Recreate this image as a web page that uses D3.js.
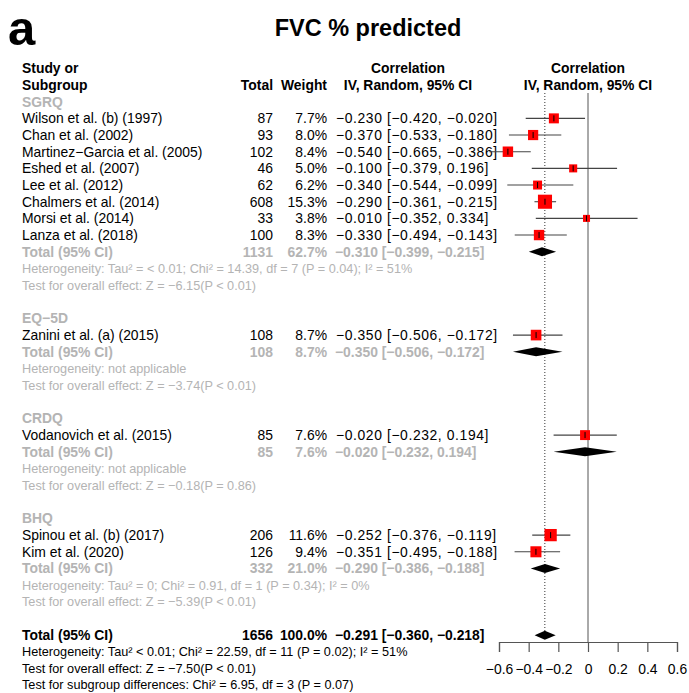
<!DOCTYPE html>
<html>
<head>
<meta charset="utf-8">
<script src="https://cdn.jsdelivr.net/npm/d3@7"></script>
<style>
    body { margin: 0; background: #fff; }
    svg text { font-family: "Liberation Sans", Arial, sans-serif; white-space: pre; }
</style>
</head>
<body>
<svg id="forest"></svg>
<script>
// studies
var studyNames = ["Wilson et al. (b) (1997)", "Chan et al. (2002)", "Martinez\u2212Garcia et al. (2005)", "Eshed et al. (2007)",
    "Lee et al. (2012)", "Chalmers et al. (2014)", "Morsi et al. (2014)", "Lanza et al. (2018)",
    "Zanini et al. (a) (2015)", "Vodanovich et al. (2015)", "Spinou et al. (b) (2017)", "Kim et al. (2020)"];
var studyGroup = [0, 0, 0, 0, 0, 0, 0, 0, 1, 2, 3, 3];
var studyTotal = [87, 93, 102, 46, 62, 608, 33, 100, 108, 85, 206, 126];
var studyWeight = [7.7, 8.0, 8.4, 5.0, 6.2, 15.3, 3.8, 8.3, 8.7, 7.6, 11.6, 9.4];
var studyR = [-0.230, -0.370, -0.540, -0.100, -0.340, -0.290, -0.010, -0.330, -0.350, -0.020, -0.252, -0.351];
var studyLo = [-0.420, -0.533, -0.665, -0.379, -0.544, -0.361, -0.352, -0.494, -0.506, -0.232, -0.376, -0.495];
var studyHi = [-0.020, -0.180, -0.386, 0.196, -0.099, -0.215, 0.334, -0.143, -0.172, 0.194, -0.119, -0.188];

// subgroups
var groupNames = ["SGRQ", "EQ\u22125D", "CRDQ", "BHQ"];
var groupTotal = [1131, 108, 85, 332];
var groupWeight = [62.7, 8.7, 7.6, 21.0];
var groupR = [-0.310, -0.350, -0.020, -0.290];
var groupLo = [-0.399, -0.506, -0.232, -0.386];
var groupHi = [-0.215, -0.172, 0.194, -0.188];
var groupHet = ["Heterogeneity: Tau\u00b2 = < 0.01; Chi\u00b2 = 14.39, df = 7 (P = 0.04); I\u00b2 = 51%",
    "Heterogeneity: not applicable",
    "Heterogeneity: not applicable",
    "Heterogeneity: Tau\u00b2 = 0; Chi\u00b2 = 0.91, df = 1 (P = 0.34); I\u00b2 = 0%"];
var groupTest = ["Test for overall effect: Z = \u22126.15(P < 0.01)",
    "Test for overall effect: Z = \u22123.74(P < 0.01)",
    "Test for overall effect: Z = \u22120.18(P = 0.86)",
    "Test for overall effect: Z = \u22125.39(P < 0.01)"];

// overall
var overallTotal = 1656;
var overallWeight = 100.0;
var overallCI = [-0.291, -0.360, -0.218];
var overallText = ["Heterogeneity: Tau\u00b2 < 0.01; Chi\u00b2 = 22.59, df = 11 (P = 0.02); I\u00b2 = 51%",
    "Test for overall effect: Z = \u22127.50(P < 0.01)",
    "Test for subgroup differences: Chi\u00b2 = 6.95, df = 3 (P = 0.07)"];

var tickValues = [-0.6, -0.4, -0.2, 0, 0.2, 0.4, 0.6];
var tickLabels = ["\u22120.6", "\u22120.4", "\u22120.2", "0", "0.2", "0.4", "0.6"];

var width = 689, height = 693;
var grey = "#b4b4b4";
var font = 13.9, smallFont = 12.7;

var svg = d3.select("#forest")
    .attr("width", width)
    .attr("height", height);

function num(v) {
    return (v < 0 ? "\u2212" : "") + Math.abs(v).toFixed(3);
}
function ciText(r, lo, hi) {
    return num(r) + " [" + num(lo) + ", " + num(hi) + "]";
}

// build the rows
var rows = [];
var r = 0;
for (var g = 0; g < groupNames.length; g++) {
    rows.push({type: "group", row: r++, g: g});
    for (var k = 0; k < studyNames.length; k++) {
        if (studyGroup[k] == g) rows.push({type: "study", row: r++, k: k});
    }
    rows.push({type: "gtotal", row: r++, g: g});
    rows.push({type: "ghet", row: r++, text: groupHet[g]});
    rows.push({type: "ghet", row: r++, text: groupTest[g]});
    r++;
}
var overallRow = r;

var y = d3.scaleLinear().domain([0, 1]).range([101.7, 118.37]);
var x = d3.scaleLinear().domain([-0.6, 0.6]).range([499, 677]);

var colStudy = 22, colTotal = 273, colWeight = 327, colCI = 335;

// title
svg.append("text")
    .attr("x", 8).attr("y", 45)
    .style("font-size", "49px").style("font-weight", "bold")
    .text("a");
svg.append("text")
    .attr("x", 368).attr("y", 36)
    .attr("text-anchor", "middle")
    .style("font-size", "23.5px").style("font-weight", "bold")
    .text("FVC % predicted");

// column headers
var header = svg.append("g").style("font-size", font + "px").style("font-weight", "bold");
header.append("text").attr("x", colStudy).attr("y", y(-2)).attr("dy", "0.35em").text("Study or");
header.append("text").attr("x", colStudy).attr("y", y(-1)).attr("dy", "0.35em").text("Subgroup");
header.append("text").attr("x", colTotal).attr("y", y(-1)).attr("dy", "0.35em").attr("text-anchor", "end").text("Total");
header.append("text").attr("x", colWeight).attr("y", y(-1)).attr("dy", "0.35em").attr("text-anchor", "end").text("Weight");
[408, 588].forEach(function (cx) {
    header.append("text").attr("x", cx).attr("y", y(-2)).attr("dy", "0.35em").attr("text-anchor", "middle").text("Correlation");
    header.append("text").attr("x", cx).attr("y", y(-1)).attr("dy", "0.35em").attr("text-anchor", "middle").text("IV, Random, 95% CI");
});

// reference lines
svg.append("line")
    .attr("x1", x(0)).attr("x2", x(0))
    .attr("y1", 93).attr("y2", 642)
    .style("stroke", "#555").style("stroke-width", 1);
svg.append("line")
    .attr("x1", x(overallCI[0])).attr("x2", x(overallCI[0]))
    .attr("y1", 93).attr("y2", y(overallRow) - 4)
    .style("stroke", "#333").style("stroke-width", 1)
    .style("stroke-dasharray", "1,2");

// text rows
var body = svg.append("g").style("font-size", font + "px");
rows.forEach(function (d) {
    var yy = y(d.row);
    if (d.type == "group") {
        body.append("text").attr("x", colStudy).attr("y", yy).attr("dy", "0.35em")
            .style("fill", grey).style("font-weight", "bold").text(groupNames[d.g]);
    } else if (d.type == "study") {
        var k = d.k;
        body.append("text").attr("x", colStudy).attr("y", yy).attr("dy", "0.35em").text(studyNames[k]);
        body.append("text").attr("x", colTotal).attr("y", yy).attr("dy", "0.35em").attr("text-anchor", "end").text(studyTotal[k]);
        body.append("text").attr("x", colWeight).attr("y", yy).attr("dy", "0.35em").attr("text-anchor", "end").text(studyWeight[k].toFixed(1) + "%");
        body.append("text").attr("x", colCI + 1).attr("y", yy).attr("dy", "0.35em")
            .style("letter-spacing", "0.6px")
            .text(ciText(studyR[k], studyLo[k], studyHi[k]));
    } else if (d.type == "gtotal") {
        var gt = body.append("g").style("fill", grey).style("font-weight", "bold");
        gt.append("text").attr("x", colStudy).attr("y", yy).attr("dy", "0.35em").text("Total (95% CI)");
        gt.append("text").attr("x", colTotal).attr("y", yy).attr("dy", "0.35em").attr("text-anchor", "end").text(groupTotal[d.g]);
        gt.append("text").attr("x", colWeight).attr("y", yy).attr("dy", "0.35em").attr("text-anchor", "end").text(groupWeight[d.g].toFixed(1) + "%");
        gt.append("text").attr("x", colCI).attr("y", yy).attr("dy", "0.35em").text(ciText(groupR[d.g], groupLo[d.g], groupHi[d.g]));
    } else {
        body.append("text").attr("x", colStudy).attr("y", yy).attr("dy", "0.35em")
            .style("fill", grey).style("font-size", smallFont + "px").text(d.text);
    }
});

// overall rows
var ov = body.append("g").style("font-weight", "bold");
var oy = y(overallRow);
ov.append("text").attr("x", colStudy).attr("y", oy).attr("dy", "0.35em").text("Total (95% CI)");
ov.append("text").attr("x", colTotal).attr("y", oy).attr("dy", "0.35em").attr("text-anchor", "end").text(overallTotal);
ov.append("text").attr("x", colWeight).attr("y", oy).attr("dy", "0.35em").attr("text-anchor", "end").text(overallWeight.toFixed(1) + "%");
ov.append("text").attr("x", colCI).attr("y", oy).attr("dy", "0.35em").text(ciText(overallCI[0], overallCI[1], overallCI[2]));
overallText.forEach(function (t, i) {
    body.append("text").attr("x", colStudy).attr("y", y(overallRow + 1 + i) - (i == 2 ? 1 : 0)).attr("dy", "0.35em")
        .style("font-size", smallFont + "px").text(t);
});

// study marks
var studyRows = rows.filter(function (d) { return d.type == "study"; });
var marks = svg.append("g");
marks.selectAll(".ci")
    .data(studyRows)
    .enter()
    .append("line")
    .attr("x1", function (d) { return x(studyLo[d.k]); })
    .attr("x2", function (d) { return x(studyHi[d.k]); })
    .attr("y1", function (d) { return y(d.row); })
    .attr("y2", function (d) { return y(d.row); })
    .style("stroke", "#444").style("stroke-width", 1.1);
marks.selectAll(".box")
    .data(studyRows)
    .enter()
    .append("rect")
    .attr("x", function (d) { return x(studyR[d.k]) - 1.8 * Math.sqrt(studyWeight[d.k]); })
    .attr("y", function (d) { return y(d.row) - 1.8 * Math.sqrt(studyWeight[d.k]); })
    .attr("width", function (d) { return 3.6 * Math.sqrt(studyWeight[d.k]); })
    .attr("height", function (d) { return 3.6 * Math.sqrt(studyWeight[d.k]); })
    .style("fill", "#ff0000");
marks.selectAll(".tick-mark")
    .data(studyRows)
    .enter()
    .append("line")
    .attr("x1", function (d) { return x(studyR[d.k]); })
    .attr("x2", function (d) { return x(studyR[d.k]); })
    .attr("y1", function (d) { return y(d.row) - 3; })
    .attr("y2", function (d) { return y(d.row) + 3; })
    .style("stroke", "#000").style("stroke-width", 1);

// diamonds
function diamond(r, lo, hi, yy) {
    return "M" + x(lo) + "," + yy + "L" + x(r) + "," + (yy - 4.5) + "L" + x(hi) + "," + yy + "L" + x(r) + "," + (yy + 4.5) + "Z";
}
var totalRows = rows.filter(function (d) { return d.type == "gtotal"; });
marks.selectAll(".diamond")
    .data(totalRows)
    .enter()
    .append("path")
    .attr("d", function (d) { return diamond(groupR[d.g], groupLo[d.g], groupHi[d.g], y(d.row)); })
    .style("fill", "#000");
marks.append("path")
    .attr("d", diamond(overallCI[0], overallCI[1], overallCI[2], oy))
    .style("fill", "#000");

// Add X axis
var axis = svg.append("g")
    .attr("transform", "translate(0,642)")
    .call(d3.axisBottom(x)
        .tickValues(tickValues)
        .tickSize(10)
        .tickPadding(12)
        .tickFormat(function (d, i) { return tickLabels[i]; }));
axis.select(".domain").style("stroke", "#555").style("stroke-width", 1.2);
axis.selectAll(".tick line").style("stroke", "#555").style("stroke-width", 1.2);
axis.selectAll(".tick text")
    .style("font-family", "'Liberation Sans', Arial, sans-serif")
    .style("font-size", font + "px")
    .style("fill", "#000");
</script>
</body>
</html>
